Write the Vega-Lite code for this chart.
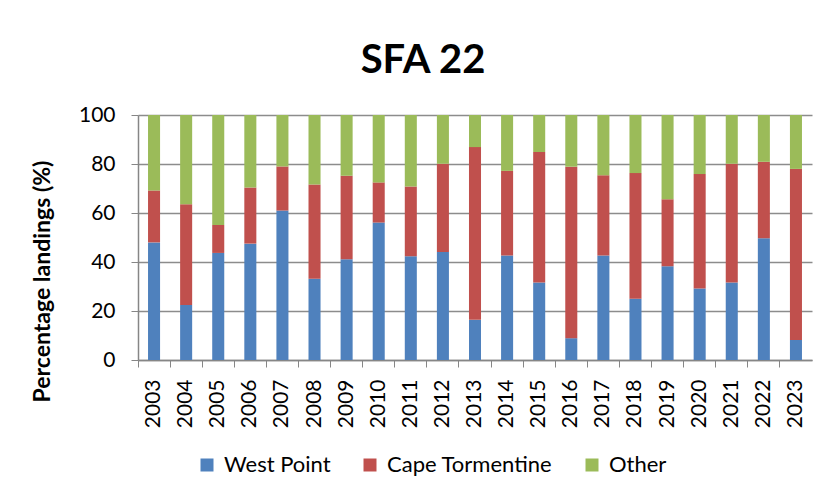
{
  "$schema": "https://vega.github.io/schema/vega-lite/v6.json",
  "autosize": {"type": "none"},
  "padding": {"left": 138, "top": 115, "right": 16, "bottom": 134},
  "width": 674,
  "height": 245,
  "background": "white",
  "title": {"text": "SFA 22", "font": "Lato", "fontSize": 40, "fontWeight": "bold", "color": "#000000", "anchor": "middle", "offset": 23, "dx": -52},
  "datasets": {
    "stackorder": [
      {"source": "West Point", "rank": 1},
      {"source": "Cape Tormentine", "rank": 2},
      {"source": "Other", "rank": 3}
    ]
  },
  "data": {"values": [
    {"year": "2003", "source": "West Point", "pct": 48.0}, {"year": "2003", "source": "Cape Tormentine", "pct": 21.2}, {"year": "2003", "source": "Other", "pct": 30.8},
    {"year": "2004", "source": "West Point", "pct": 22.5}, {"year": "2004", "source": "Cape Tormentine", "pct": 41.1}, {"year": "2004", "source": "Other", "pct": 36.4},
    {"year": "2005", "source": "West Point", "pct": 43.7}, {"year": "2005", "source": "Cape Tormentine", "pct": 11.4}, {"year": "2005", "source": "Other", "pct": 44.9},
    {"year": "2006", "source": "West Point", "pct": 47.5}, {"year": "2006", "source": "Cape Tormentine", "pct": 22.9}, {"year": "2006", "source": "Other", "pct": 29.6},
    {"year": "2007", "source": "West Point", "pct": 61.0}, {"year": "2007", "source": "Cape Tormentine", "pct": 18.0}, {"year": "2007", "source": "Other", "pct": 21.0},
    {"year": "2008", "source": "West Point", "pct": 33.2}, {"year": "2008", "source": "Cape Tormentine", "pct": 38.4}, {"year": "2008", "source": "Other", "pct": 28.4},
    {"year": "2009", "source": "West Point", "pct": 41.1}, {"year": "2009", "source": "Cape Tormentine", "pct": 34.1}, {"year": "2009", "source": "Other", "pct": 24.8},
    {"year": "2010", "source": "West Point", "pct": 56.1}, {"year": "2010", "source": "Cape Tormentine", "pct": 16.4}, {"year": "2010", "source": "Other", "pct": 27.5},
    {"year": "2011", "source": "West Point", "pct": 42.3}, {"year": "2011", "source": "Cape Tormentine", "pct": 28.5}, {"year": "2011", "source": "Other", "pct": 29.2},
    {"year": "2012", "source": "West Point", "pct": 44.1}, {"year": "2012", "source": "Cape Tormentine", "pct": 36.0}, {"year": "2012", "source": "Other", "pct": 19.9},
    {"year": "2013", "source": "West Point", "pct": 16.4}, {"year": "2013", "source": "Cape Tormentine", "pct": 70.5}, {"year": "2013", "source": "Other", "pct": 13.1},
    {"year": "2014", "source": "West Point", "pct": 42.7}, {"year": "2014", "source": "Cape Tormentine", "pct": 34.5}, {"year": "2014", "source": "Other", "pct": 22.8},
    {"year": "2015", "source": "West Point", "pct": 31.6}, {"year": "2015", "source": "Cape Tormentine", "pct": 53.3}, {"year": "2015", "source": "Other", "pct": 15.1},
    {"year": "2016", "source": "West Point", "pct": 8.9}, {"year": "2016", "source": "Cape Tormentine", "pct": 70.0}, {"year": "2016", "source": "Other", "pct": 21.1},
    {"year": "2017", "source": "West Point", "pct": 42.7}, {"year": "2017", "source": "Cape Tormentine", "pct": 32.7}, {"year": "2017", "source": "Other", "pct": 24.6},
    {"year": "2018", "source": "West Point", "pct": 25.0}, {"year": "2018", "source": "Cape Tormentine", "pct": 51.3}, {"year": "2018", "source": "Other", "pct": 23.7},
    {"year": "2019", "source": "West Point", "pct": 38.3}, {"year": "2019", "source": "Cape Tormentine", "pct": 27.3}, {"year": "2019", "source": "Other", "pct": 34.4},
    {"year": "2020", "source": "West Point", "pct": 29.2}, {"year": "2020", "source": "Cape Tormentine", "pct": 46.7}, {"year": "2020", "source": "Other", "pct": 24.1},
    {"year": "2021", "source": "West Point", "pct": 31.6}, {"year": "2021", "source": "Cape Tormentine", "pct": 48.5}, {"year": "2021", "source": "Other", "pct": 19.9},
    {"year": "2022", "source": "West Point", "pct": 49.7}, {"year": "2022", "source": "Cape Tormentine", "pct": 31.2}, {"year": "2022", "source": "Other", "pct": 19.1},
    {"year": "2023", "source": "West Point", "pct": 8.2}, {"year": "2023", "source": "Cape Tormentine", "pct": 69.8}, {"year": "2023", "source": "Other", "pct": 22.0}
  ]},
  "transform": [
    {"lookup": "source", "from": {"data": {"name": "stackorder"}, "key": "source", "fields": ["rank"]}}
  ],
  "mark": {"type": "bar", "width": {"band": 0.375}},
  "encoding": {
    "x": {
      "field": "year", "type": "ordinal",
      "scale": {"paddingInner": 0, "paddingOuter": 0},
      "axis": {
        "title": null, "labelAngle": -90, "labelFont": "Lato", "labelFontSize": 21, "labelColor": "#000000",
        "labelPadding": 12, "tickSize": 7, "tickColor": "#868686", "domainColor": "#868686", "domainWidth": 1.5,
        "bandPosition": 0, "grid": false
      }
    },
    "y": {
      "field": "pct", "type": "quantitative", "stack": "zero",
      "scale": {"domain": [0, 100], "nice": false},
      "axis": {
        "title": "Percentage landings (%)", "titleFont": "Lato", "titleFontSize": 23, "titleFontWeight": "bold", "titleColor": "#000000",
        "titleX": -84, "titleY": 166, "values": [0, 20, 40, 60, 80, 100],
        "labelFont": "Lato", "labelFontSize": 21, "labelColor": "#000000", "labelPadding": 16,
        "tickSize": 7, "tickColor": "#868686", "domainColor": "#868686", "domainWidth": 1.5,
        "grid": true, "gridColor": "#8c8c8c", "gridWidth": 1.5
      }
    },
    "order": {"field": "rank", "type": "quantitative", "sort": "ascending"},
    "color": {
      "field": "source", "type": "nominal",
      "sort": ["West Point", "Cape Tormentine", "Other"],
      "scale": {"domain": ["West Point", "Cape Tormentine", "Other"], "range": ["#4F81BD", "#C0504D", "#9BBB59"]},
      "legend": {
        "title": null, "orient": "none", "direction": "horizontal", "legendX": 58, "legendY": 339,
        "symbolType": "square", "symbolSize": 169, "symbolStrokeWidth": 0,
        "labelFont": "Lato", "labelFontSize": 22, "labelColor": "#000000", "labelOffset": 6, "labelLimit": 400,
        "columnPadding": 28
      }
    }
  },
  "config": {"view": {"stroke": null}}
}
